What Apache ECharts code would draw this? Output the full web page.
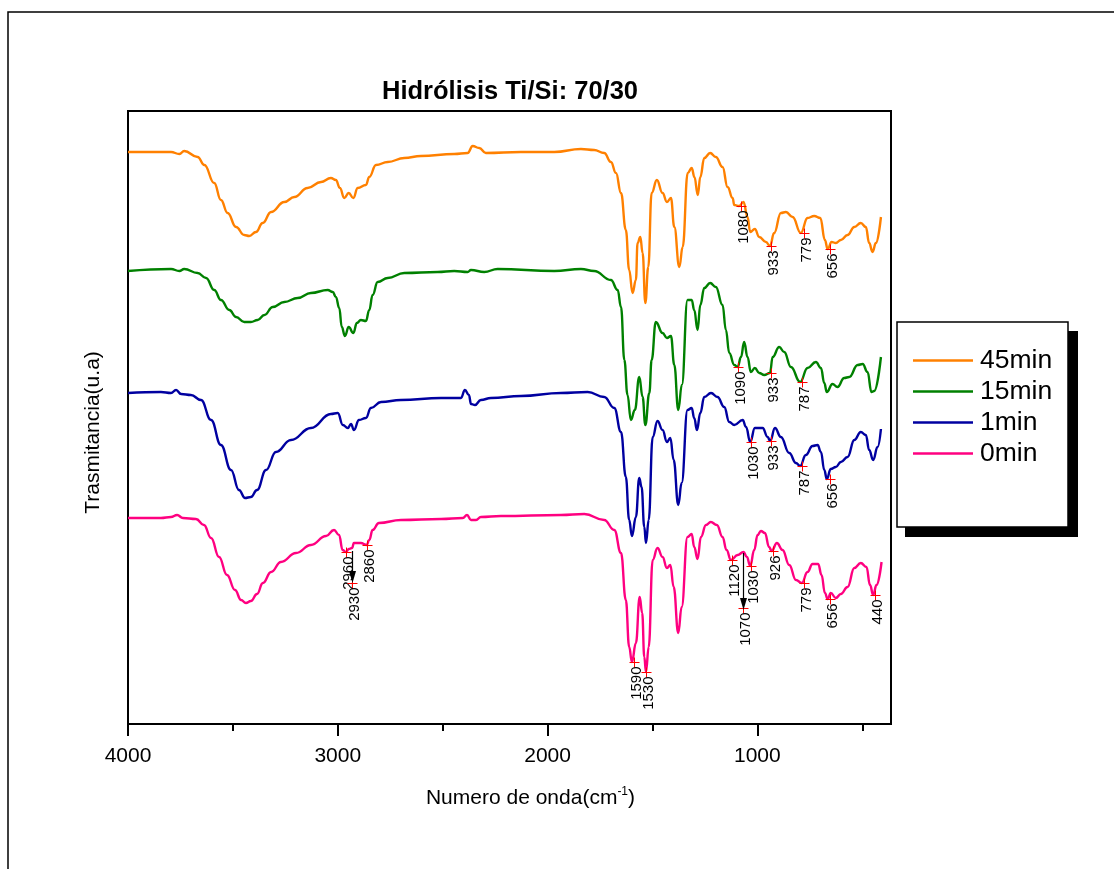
<!DOCTYPE html>
<html>
<head>
<meta charset="utf-8">
<script src="https://cdn.jsdelivr.net/npm/echarts@6/dist/echarts.min.js"></script>
<style>
html, body { margin: 0; padding: 0; background: #ffffff; }
#chart { width: 1114px; height: 869px; }
</style>
</head>
<body>
<div id="chart"></div>
<script>
// FTIR spectra: [wavenumber (cm-1), transmittance (a.u., curves stacked with offsets)]
const seriesNames = ['45min', '15min', '1min', '0min'];
const seriesColors = ['#FF8000', '#008000', '#0000A0', '#FF0080'];

const spectrum45min = [[4000,57.2],[3795,57.2],[3755,57.0],[3732,57.3],[3668,56.7],[3636,55.9],[3589,54.1],[3557,52.4],[3525,51.1],[3485,49.7],[3446,48.9],[3422,48.8],[3390,49.2],[3358,50.1],[3318,51.2],[3255,52.2],[3207,52.7],[3144,53.6],[3080,54.2],[3033,54.6],[3009,54.4],[2990,53.6],[2969,52.6],[2948,53.1],[2926,52.6],[2905,53.6],[2866,53.9],[2850,54.7],[2818,55.9],[2762,56.2],[2683,56.6],[2604,56.8],[2445,57.0],[2381,57.1],[2357,57.8],[2326,57.6],[2294,57.1],[2127,57.2],[1968,57.2],[1841,57.5],[1778,57.4],[1730,57.1],[1698,56.2],[1674,55.1],[1650,53.1],[1627,49.4],[1611,45.4],[1595,43.1],[1579,44.4],[1571,48.1],[1558,48.7],[1547,47.1],[1534,42.1],[1520,45.7],[1504,53.1],[1479,54.4],[1452,53.1],[1431,52.2],[1412,52.6],[1396,49.7],[1372,45.7],[1356,47.7],[1332,55.1],[1313,55.6],[1300,54.7],[1284,52.9],[1272,54.7],[1253,56.6],[1225,57.1],[1198,56.7],[1166,55.7],[1142,53.7],[1118,52.6],[1110,51.9],[1087,51.8],[1066,52.2],[1047,50.7],[1034,49.2],[1012,49.5],[991,48.7],[959,48.2],[940,47.8],[920,49.1],[888,51.1],[864,51.2],[832,50.7],[793,49.1],[761,50.6],[729,50.8],[700,50.6],[678,48.4],[665,47.5],[646,48.2],[626,48.1],[602,48.4],[570,48.9],[538,49.7],[507,50.1],[483,49.7],[467,48.1],[451,47.2],[435,48.1],[411,50.7]];

const spectrum15min = [[4000,45.3],[3795,45.5],[3755,45.3],[3732,45.5],[3668,45.1],[3628,44.6],[3589,43.4],[3557,42.4],[3517,41.4],[3485,40.7],[3446,40.2],[3414,40.2],[3382,40.4],[3350,40.9],[3310,41.7],[3255,42.2],[3191,42.6],[3128,43.1],[3048,43.4],[3024,43.2],[3009,42.7],[2993,41.6],[2981,39.7],[2966,38.8],[2948,39.7],[2926,39.1],[2909,40.1],[2890,40.4],[2866,40.3],[2850,41.4],[2834,42.9],[2810,44.2],[2762,44.6],[2683,45.1],[2524,45.2],[2445,45.3],[2381,45.2],[2365,45.4],[2302,45.2],[2238,45.5],[1968,45.3],[1841,45.5],[1778,45.3],[1698,44.4],[1666,43.4],[1650,41.7],[1634,36.4],[1619,32.9],[1603,30.4],[1584,31.4],[1563,34.7],[1547,32.7],[1534,29.9],[1515,33.1],[1504,36.4],[1484,40.2],[1452,39.1],[1431,38.6],[1412,38.8],[1396,35.9],[1377,31.4],[1360,33.9],[1333,42.4],[1313,42.4],[1301,41.4],[1285,39.4],[1272,41.9],[1253,43.6],[1225,44.1],[1198,43.7],[1166,41.9],[1150,39.4],[1134,37.1],[1110,35.9],[1094,35.7],[1078,36.7],[1063,38.2],[1047,36.7],[1031,35.2],[1012,35.6],[991,35.1],[967,34.9],[940,35.1],[927,36.7],[896,37.7],[872,37.2],[840,35.7],[796,34.2],[761,35.6],[721,36.2],[697,35.6],[681,34.1],[669,33.2],[642,34.0],[618,33.7],[586,34.6],[562,34.7],[522,35.9],[498,36.0],[475,35.2],[456,33.2],[443,33.3],[411,36.7]];

const spectrum1min = [[4000,33.1],[3843,33.2],[3795,33.1],[3771,33.4],[3747,33.0],[3700,32.9],[3652,32.4],[3604,30.4],[3557,27.9],[3509,25.4],[3471,23.4],[3442,22.6],[3414,22.7],[3385,23.4],[3342,25.4],[3295,27.2],[3223,28.4],[3128,29.6],[3033,31.0],[3000,31.1],[2976,29.9],[2952,29.6],[2937,30.0],[2923,29.4],[2899,30.4],[2866,30.6],[2842,31.6],[2794,32.2],[2699,32.4],[2508,32.6],[2413,32.6],[2394,33.4],[2375,32.9],[2365,32.0],[2346,31.9],[2318,32.4],[2270,32.6],[2127,32.8],[1936,33.1],[1809,33.2],[1730,32.7],[1682,31.6],[1650,29.2],[1627,24.7],[1611,20.4],[1598,18.8],[1579,20.7],[1563,24.6],[1552,23.7],[1539,19.7],[1531,18.1],[1518,20.4],[1499,28.7],[1476,30.3],[1452,29.4],[1431,28.2],[1415,28.6],[1399,26.4],[1377,21.9],[1361,24.1],[1333,31.4],[1313,31.6],[1301,30.6],[1288,29.4],[1272,31.1],[1253,32.7],[1221,33.1],[1190,32.7],[1158,31.7],[1134,30.2],[1110,29.9],[1070,30.4],[1054,29.7],[1034,28.2],[1012,29.6],[975,29.6],[951,28.7],[939,28.3],[916,29.6],[888,28.7],[848,27.1],[816,26.1],[796,25.8],[769,26.9],[737,27.8],[713,27.9],[697,27.2],[681,25.4],[669,24.5],[650,25.5],[626,25.7],[602,26.2],[570,26.7],[538,28.4],[507,29.2],[483,28.9],[467,27.4],[448,26.4],[427,27.7],[411,29.5]];

const spectrum0min = [[4000,20.6],[3843,20.6],[3795,20.7],[3766,20.9],[3738,20.6],[3676,20.5],[3638,19.9],[3604,18.6],[3566,16.7],[3528,14.9],[3490,13.4],[3461,12.4],[3438,12.1],[3414,12.3],[3385,13.0],[3357,14.1],[3318,15.2],[3271,16.2],[3199,17.1],[3128,17.9],[3056,18.8],[3018,19.4],[2994,18.9],[2977,17.4],[2961,17.2],[2947,17.5],[2932,17.6],[2923,18.1],[2890,18.1],[2862,17.9],[2850,18.4],[2834,19.4],[2804,20.1],[2699,20.4],[2508,20.5],[2404,20.6],[2384,20.9],[2365,20.4],[2341,20.4],[2318,20.7],[2222,20.8],[1936,20.9],[1825,21.0],[1730,20.4],[1682,19.4],[1650,17.1],[1627,12.4],[1611,7.7],[1598,6.2],[1579,8.1],[1561,12.7],[1549,11.1],[1539,6.7],[1531,5.2],[1518,7.7],[1499,16.4],[1476,17.6],[1452,16.7],[1431,15.6],[1415,15.9],[1399,13.7],[1377,9.1],[1361,11.7],[1333,18.7],[1313,19.0],[1301,17.7],[1285,16.5],[1269,18.7],[1245,19.9],[1222,20.2],[1193,19.9],[1166,18.7],[1147,17.4],[1126,16.4],[1094,16.9],[1066,17.2],[1050,16.7],[1034,15.8],[1015,17.4],[999,18.9],[983,19.3],[964,19.1],[944,17.7],[932,17.3],[907,18.1],[880,17.4],[848,15.9],[816,14.4],[788,14.1],[761,15.2],[737,16.0],[710,16.0],[694,14.9],[678,13.1],[665,12.5],[650,13.1],[626,12.6],[602,13.0],[570,13.7],[538,15.6],[507,16.1],[480,15.7],[463,13.9],[448,12.9],[432,13.9],[408,16.2]];

// Labelled band positions [wavenumber, transmittance] for each spectrum
const peaks45min = [[1080,51.8],[933,47.8],[779,49.1],[656,47.5]];
const peaks15min = [[1090,35.7],[933,35.1],[787,34.2]];
const peaks1min = [[1030,28.2],[933,28.3],[787,25.8],[656,24.5]];
const peaks0min = [[2960,17.2],[2930,14.1],[2860,17.9],[1590,6.2],[1530,5.2],[1120,16.4],[1070,11.6],[1030,15.8],[926,17.3],[779,14.1],[656,12.5],[440,12.9]];

// Arrows on the 0min spectrum: [wavenumber, start transmittance, tip transmittance]
const arrows0min = [[2930, 17.3, 14.1], [1070, 17.1, 11.4]];

const xTickValues = [4000, 3000, 2000, 1000];
const xMinorTickValues = [3500, 2500, 1500, 500];
const xMin = 363, xMax = 4000;
const yMin = 0, yMax = 61.3;

const FONT = "'Liberation Sans', Arial, sans-serif";

const chart = echarts.init(document.getElementById('chart'), null, { renderer: 'canvas' });

const spectra = [spectrum45min, spectrum15min, spectrum1min, spectrum0min];
const peakSets = [peaks45min, peaks15min, peaks1min, peaks0min];

const lineSeries = spectra.map((data, i) => ({
  name: seriesNames[i],
  type: 'line',
  data: data,
  symbol: 'none',
  showSymbol: false,
  smooth: 0.45,
  smoothMonotone: 'x',
  lineStyle: { color: seriesColors[i], width: 2.4 },
  itemStyle: { color: seriesColors[i] },
  emphasis: { disabled: true },
  z: 3
}));

// Red "+" marker with a vertical wavenumber label hanging below it
function renderPeak(params, api) {
  const wn = api.value(0);
  const pt = api.coord([wn, api.value(1)]);
  const x = Math.round(pt[0]) + 0.5, y = Math.round(pt[1]) + 0.5;
  return {
    type: 'group',
    children: [
      { type: 'line', shape: { x1: x - 5, y1: y, x2: x + 5, y2: y }, style: { stroke: '#FF0000', lineWidth: 1 } },
      { type: 'line', shape: { x1: x, y1: y - 5, x2: x, y2: y + 5 }, style: { stroke: '#FF0000', lineWidth: 1 } },
      // digits sit high in the line box, so nudge the rotated text to centre it on the marker
      { type: 'text', x: x + 2, y: y + 4, rotation: Math.PI / 2,
        style: { text: String(wn), align: 'right', verticalAlign: 'middle',
                 fontFamily: FONT, fontSize: 15, fill: '#000' } }
    ]
  };
}

// Vertical arrow: shaft plus a narrow filled head ending at the tip value
function renderArrow(params, api) {
  const wn = api.value(0);
  const a = api.coord([wn, api.value(1)]);
  const b = api.coord([wn, api.value(2)]);
  const x = Math.round(a[0]) + 0.5;
  return {
    type: 'group',
    children: [
      { type: 'line', shape: { x1: x, y1: a[1], x2: x, y2: b[1] - 8 }, style: { stroke: '#000', lineWidth: 1.2 } },
      { type: 'polygon', shape: { points: [[x - 3.5, b[1] - 12], [x + 3.5, b[1] - 12], [x, b[1]]] }, style: { fill: '#000' } }
    ]
  };
}

const peakSeries = peakSets.map((data, i) => ({
  name: 'peaks-' + seriesNames[i],
  type: 'custom',
  data: data,
  encode: { x: 0, y: 1 },
  renderItem: renderPeak,
  silent: true,
  z: 4
}));

const arrowSeries = {
  name: 'arrows',
  type: 'custom',
  data: arrows0min,
  encode: { x: 0, y: [1, 2] },
  renderItem: renderArrow,
  silent: true,
  z: 5
};

chart.setOption({
  animation: false,
  backgroundColor: '#ffffff',
  title: {
    text: 'Hidrólisis Ti/Si: 70/30',
    left: 505,
    top: 74,
    textAlign: 'center',
    textStyle: { fontFamily: FONT, fontSize: 25.5, fontWeight: 'bold', color: '#000' }
  },
  graphic: [
    { type: 'rect', z: 0, silent: true,
      shape: { x: 8, y: 12, width: 1130, height: 890 },
      style: { fill: 'none', stroke: '#000', lineWidth: 1.5 } },
    { type: 'rect', z: 0, silent: true,
      shape: { x: 905, y: 331, width: 173, height: 206 },
      style: { fill: '#000' } },
    { type: 'rect', z: 1, silent: true,
      shape: { x: 897, y: 322, width: 171, height: 205 },
      style: { fill: '#fff', stroke: '#000', lineWidth: 1.5 } }
  ],
  legend: {
    data: seriesNames,
    orient: 'vertical',
    left: 908,
    top: 340,
    icon: 'rect',
    itemWidth: 60,
    itemHeight: 2.4,
    itemGap: 0,
    selectedMode: false,
    textStyle: { fontFamily: FONT, fontSize: 26.5, color: '#000', lineHeight: 31, padding: [0, 0, 0, 2] },
    z: 10
  },
  grid: {
    left: 128, top: 111, width: 763, height: 613,
    show: true, borderColor: '#000', borderWidth: 2, backgroundColor: 'transparent'
  },
  xAxis: [
    {
      type: 'value', min: xMin, max: xMax, inverse: true, position: 'bottom',
      name: '{t|Numero de onda(cm}{s|-1}{t|)}',
      nameLocation: 'middle', nameGap: 62,
      nameTextStyle: {
        padding: [0, 0, 0, 42],
        rich: {
          t: { fontFamily: FONT, fontSize: 21, color: '#000', lineHeight: 24 },
          s: { fontFamily: FONT, fontSize: 12, color: '#000', verticalAlign: 'top', lineHeight: 12 }
        }
      },
      axisLine: { show: true, lineStyle: { color: '#000', width: 2 } },
      axisTick: { show: true, inside: false, length: 12, lineStyle: { color: '#000', width: 2 }, customValues: xTickValues },
      axisLabel: { show: true, margin: 22, fontFamily: FONT, fontSize: 21, color: '#000',
                   customValues: xTickValues, formatter: v => String(v) },
      splitLine: { show: false }
    },
    {
      type: 'value', min: xMin, max: xMax, inverse: true, position: 'bottom',
      axisLine: { show: false },
      axisTick: { show: true, inside: false, length: 7, lineStyle: { color: '#000', width: 2 }, customValues: xMinorTickValues },
      axisLabel: { show: false },
      splitLine: { show: false }
    }
  ],
  yAxis: {
    type: 'value', min: yMin, max: yMax,
    name: 'Trasmitancia(u.a)',
    nameLocation: 'middle', nameGap: 24,
    nameTextStyle: { fontFamily: FONT, fontSize: 21, color: '#000', padding: [0, 30, 0, 0] },
    axisLine: { show: false },
    axisTick: { show: false },
    axisLabel: { show: false },
    splitLine: { show: false }
  },
  series: [...lineSeries, ...peakSeries, arrowSeries]
});
</script>
</body>
</html>
